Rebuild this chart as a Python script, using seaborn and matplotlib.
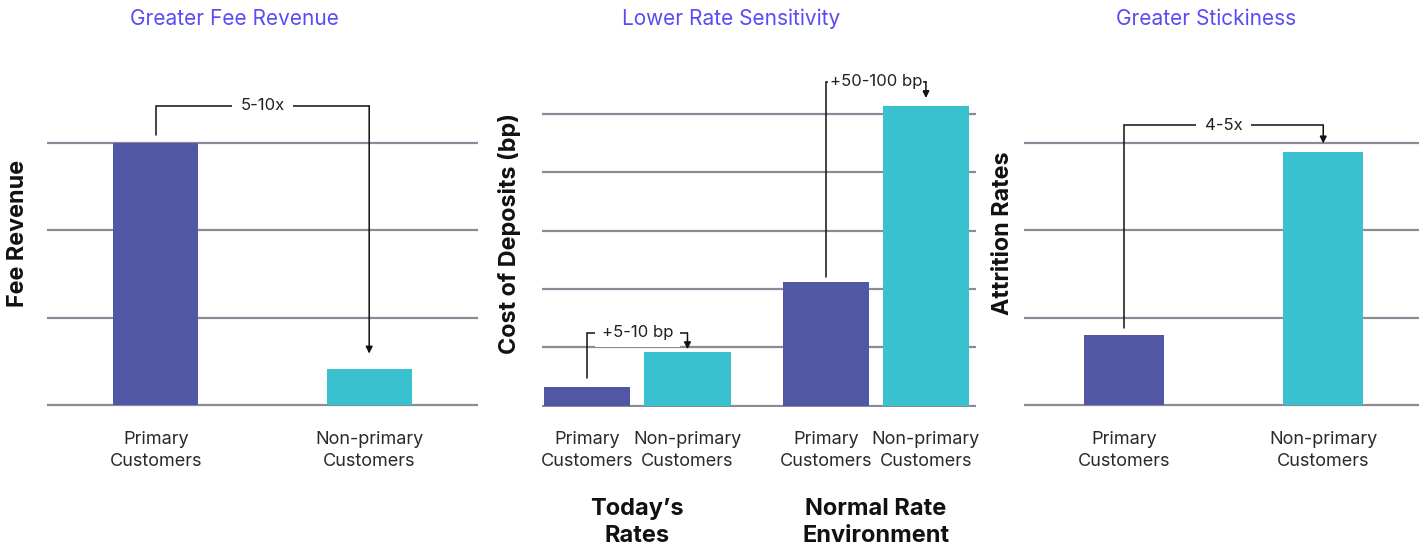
import matplotlib
matplotlib.use("Agg")
import matplotlib.pyplot as plt
import matplotlib.transforms as mtransforms
import seaborn as sns
import pandas as pd

# Data (relative units)
customer_types = ["Primary\nCustomers", "Non-primary\nCustomers"]
fee_values = [3.0, 0.41]
attrition_values = [0.8, 2.89]
rate_groups = ["Today\u2019s\nRates", "Normal Rate\nEnvironment"]
deposit_values = [[0.32, 0.92], [2.12, 5.14]]

titles = ["Greater Fee Revenue", "Lower Rate Sensitivity", "Greater Stickiness"]
ylabels = ["Fee Revenue", "Cost of Deposits (bp)", "Attrition Rates"]
bracket_labels = ["5-10x", ["+5-10 bp", "+50-100 bp"], "4-5x"]

# Style
PRIMARY = "#5257A5"
NONPRIMARY = "#3AC1CF"
TITLE_COLOR = "#5A4CF2"
GRID_COLOR = "#8B8A99"
palette = [PRIMARY, NONPRIMARY]

sns.set_theme(style="white")
plt.rcParams["font.family"] = ["Inter", "DejaVu Sans"]

fig = plt.figure(figsize=(14.24, 5.5), dpi=100)
W, H = 1424, 550
top_px, base_px = 60, 407


def make_ax(left, right):
    return fig.add_axes([left / W, (H - base_px) / H, (right - left) / W, (base_px - top_px) / H])


def style_ax(ax, unit_px, n_grid, title, title_x, ylabel, ylabel_x):
    ax.set_ylim(-0.02, (base_px - top_px) / unit_px)
    ax.set_yticks(range(n_grid + 1))
    ax.set_yticklabels([])
    ax.yaxis.grid(True, color=GRID_COLOR, lw=1.6)
    ax.xaxis.grid(False)
    ax.set_axisbelow(True)
    sns.despine(ax=ax, left=True, bottom=True)
    ax.tick_params(axis="both", length=0)
    ax.tick_params(axis="x", pad=17, labelsize=13, labelcolor="#2a2a2a")
    for t in ax.get_xticklabels():
        t.set_linespacing(1.45)
    ax.set_xlabel("")
    ax.set_ylabel("")
    ax.text(title_x, 1.118, title, transform=ax.transAxes, ha="center", va="center",
            fontsize=15, color=TITLE_COLOR)
    ax.text(ylabel_x, 0.5, ylabel, transform=ax.transAxes, rotation=90, ha="center",
            va="center", fontsize=16.8, fontweight="bold", color="#111111")


def bracket(ax, x0, x1, y0, ytop, y1, label, pad):
    ax.plot([x0, x0, x1], [y0, ytop, ytop], color="#111111", lw=1.1,
            clip_on=False, zorder=4, solid_joinstyle="miter")
    ax.annotate("", xy=(x1, y1), xytext=(x1, ytop),
                arrowprops=dict(arrowstyle="-|>", color="#111111", lw=1.1,
                                mutation_scale=10, shrinkA=0, shrinkB=0),
                annotation_clip=False, zorder=4)
    ax.text((x0 + x1) / 2, ytop, label, ha="center", va="center", fontsize=12,
            color="#222222", zorder=5,
            bbox=dict(fc="white", ec="none", pad=pad))


def bar_info(ax):
    bars = sorted(ax.patches, key=lambda p: p.get_x())
    return [(p.get_x() + p.get_width() / 2, p.get_height()) for p in bars]


# Panel 1: fee revenue
ax1 = make_ax(47, 478)
df1 = pd.DataFrame({"type": customer_types, "value": fee_values})
sns.barplot(data=df1, x="type", y="value", hue="type", palette=palette,
            width=0.4, legend=False, ax=ax1, saturation=1, linewidth=0)
ax1.set_xlim(-0.51, 1.51)
style_ax(ax1, 88, 3, titles[0], 0.436, ylabels[0], -0.067)
b = bar_info(ax1)
bracket(ax1, b[0][0], b[1][0], b[0][1] + 0.09, 3.42, b[1][1] + 0.18, bracket_labels[0], 6)

# Panel 2: cost of deposits
ax2 = make_ax(542, 976)
df2 = pd.DataFrame({
    "group": [g for g in rate_groups for _ in customer_types],
    "type": customer_types * len(rate_groups),
    "value": [v for row in deposit_values for v in row],
})
sns.barplot(data=df2, x="group", y="value", hue="type", palette=palette,
            width=0.84, gap=0.14, legend=False, ax=ax2, saturation=1, linewidth=0)
ax2.set_xlim(-0.40, 1.42)
b2 = bar_info(ax2)
ax2.set_xticks([x for x, _ in b2])
ax2.set_xticklabels(customer_types * len(rate_groups))
style_ax(ax2, 58.6, 5, titles[1], 0.435, ylabels[1], -0.074)
for i, g in enumerate(rate_groups):
    ax2.text(i, -0.262, g, transform=mtransforms.blended_transform_factory(ax2.transData, ax2.transAxes),
             ha="center", va="top", fontsize=17, fontweight="bold", color="#111111",
             linespacing=1.32)
bracket(ax2, b2[0][0], b2[1][0], b2[0][1] + 0.16, 1.25, b2[1][1] + 0.05, bracket_labels[1][0], 5)
bracket(ax2, b2[2][0], b2[3][0], b2[2][1] + 0.08, 5.55, b2[3][1] + 0.13, bracket_labels[1][1], 1)

# Panel 3: attrition
ax3 = make_ax(1024, 1419)
df3 = pd.DataFrame({"type": customer_types, "value": attrition_values})
sns.barplot(data=df3, x="type", y="value", hue="type", palette=palette,
            width=0.4, legend=False, ax=ax3, saturation=1, linewidth=0)
ax3.set_xlim(-0.50, 1.48)
style_ax(ax3, 88, 3, titles[2], 0.46, ylabels[2], -0.053)
b3 = bar_info(ax3)
bracket(ax3, b3[0][0], b3[1][0], b3[0][1] + 0.08, 3.2, b3[1][1] + 0.1, bracket_labels[2], 6)

fig.savefig("out.png", dpi=100)
